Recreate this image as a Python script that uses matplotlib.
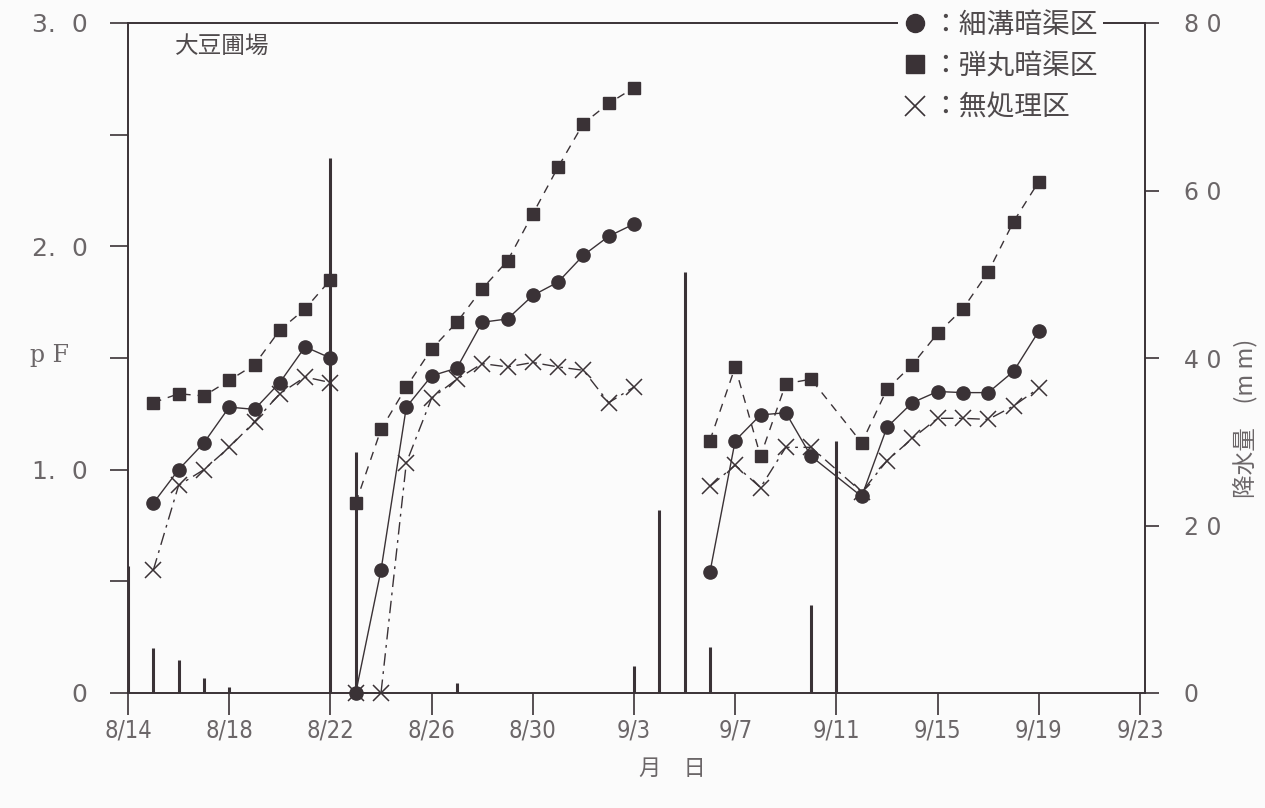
import matplotlib
matplotlib.use("Agg")
import matplotlib.pyplot as plt
from matplotlib.lines import Line2D

plt.rcParams["font.family"] = ["Noto Sans CJK JP", "DejaVu Sans"]

INK = "#3a3236"
TEXT = "#6b6668"

# days counted from 8/14; each run is a separate measurement period
segment_days = [
    [1, 2, 3, 4, 5, 6, 7, 8],
    [9, 10, 11, 12, 13, 14, 15, 16, 17, 18, 19, 20],
    [23, 24, 25, 26, 27, 29, 30, 31, 32, 33, 34, 35, 36],
]

# pF, 細溝暗渠区
furrow_pf = [
    [0.85, 1.00, 1.12, 1.28, 1.27, 1.39, 1.55, 1.50],
    [0.00, 0.55, 1.28, 1.42, 1.455, 1.66, 1.675, 1.78, 1.84, 1.96, 2.045, 2.10],
    [0.54, 1.13, 1.245, 1.255, 1.06, 0.88, 1.19, 1.30, 1.35, 1.345, 1.345, 1.44, 1.62],
]

# pF, 弾丸暗渠区
mole_pf = [
    [1.30, 1.34, 1.33, 1.40, 1.47, 1.625, 1.72, 1.85],
    [0.85, 1.18, 1.37, 1.54, 1.66, 1.81, 1.935, 2.145, 2.355, 2.55, 2.64, 2.71],
    [1.13, 1.46, 1.06, 1.385, 1.405, 1.12, 1.36, 1.47, 1.61, 1.72, 1.885, 2.11, 2.29],
]

# pF, 無処理区
control_pf = [
    [0.55, 0.93, 1.00, 1.10, 1.215, 1.34, 1.415, 1.39],
    [0.00, 0.00, 1.03, 1.32, 1.405, 1.475, 1.46, 1.48, 1.46, 1.445, 1.30, 1.37],
    [0.925, 1.02, 0.92, 1.10, 1.10, 0.90, 1.04, 1.14, 1.23, 1.23, 1.225, 1.285, 1.365],
]

rain_days = [0, 1, 2, 3, 4, 8, 9, 13, 20, 21, 22, 23, 27, 28]
rain_mm = [15.2, 5.4, 3.9, 1.8, 0.7, 63.9, 28.8, 1.2, 3.2, 21.8, 50.3, 5.5, 10.5, 30.1]

tick_days = list(range(0, 41, 4))
tick_dates = ["8/14", "8/18", "8/22", "8/26", "8/30", "9/3",
              "9/7", "9/11", "9/15", "9/19", "9/23"]
pf_ticks = [0, 0.5, 1.0, 1.5, 2.0, 2.5, 3.0]
pf_labels = ["0", "", "1.  0", "", "2.  0", "", "3.  0"]
rain_ticks = [0, 20, 40, 60, 80]
rain_labels = ["0", "2 0", "4 0", "6 0", "8 0"]

W, H = 1265, 808
fig = plt.figure(figsize=(W / 100, H / 100), dpi=100)
fig.patch.set_facecolor("#fbfbfb")

left, right, top, bottom = 128, 1145, 23, 693
ax = fig.add_axes([left / W, 1 - bottom / H, (right - left) / W, (bottom - top) / H])
ax.set_facecolor("none")
ax2 = ax.twinx()
ax2.set_facecolor("none")

# rainfall as thin bars on the right-hand scale
ax2.vlines(rain_days, 0, rain_mm, color=INK, lw=2.2)

styles = [
    (furrow_pf, dict(marker="o", ms=9.5, ls="-", lw=1.0)),
    (mole_pf, dict(marker="s", ms=9, ls=(0, (6, 5)), lw=1.0)),
    (control_pf, dict(marker="x", ms=12, mew=1.1, ls=(0, (9, 4, 2, 4)), lw=1.0)),
]
for series, kw in styles:
    for d, v in zip(segment_days, series):
        ax.plot(d, v, color=INK, mfc=INK, mec=INK, clip_on=False, **kw)

ax.set_xlim(0, (right - left) / 25.3)
ax.set_ylim(0, 3)
ax2.set_ylim(0, 80)

ax.set_xticks(tick_days)
ax.set_xticklabels(tick_dates, fontsize=17, color=TEXT, family="DejaVu Sans",
                   fontstretch="condensed", fontweight="light")
ax.set_yticks(pf_ticks)
ax.set_yticklabels(pf_labels, fontsize=18, color=TEXT, family="DejaVu Sans")
ax2.set_yticks(rain_ticks)
ax2.set_yticklabels(rain_labels, fontsize=17, color=TEXT, family="DejaVu Sans")

ax.tick_params(axis="x", direction="out", length=16, width=1.2, color=INK, pad=2)
ax.tick_params(axis="y", direction="out", length=13, width=1.2, color=INK, pad=16)
ax2.tick_params(axis="y", direction="out", length=10, width=1.2, color=INK, pad=18)

for sp in ax.spines.values():
    sp.set_color(INK)
    sp.set_linewidth(1.4)
ax.spines["right"].set_visible(False)
for name, sp in ax2.spines.items():
    sp.set_visible(name == "right")
    sp.set_color(INK)
    sp.set_linewidth(1.4)

handles = [
    Line2D([], [], color=INK, marker="o", ms=13, ls="none"),
    Line2D([], [], color=INK, marker="s", ms=13, ls="none"),
    Line2D([], [], color=INK, marker="x", ms=14, mew=1.2, ls="none"),
]
labels = ["：細溝暗渠区", "：弾丸暗渠区", "：無処理区"]
leg = ax2.legend(handles, labels, loc="upper left",
                 bbox_to_anchor=(898 / W, 1 - 4 / H), bbox_transform=fig.transFigure,
                 frameon=True, facecolor="#fbfbfb", edgecolor="none", framealpha=1,
                 fontsize=20, handlelength=0.8, handletextpad=0.2,
                 labelspacing=0.42, borderpad=0.2, borderaxespad=0)
for t in leg.get_texts():
    t.set_color("#4f4a4c")

fig.text(175 / W, 1 - 46 / H, "大豆圃場", fontsize=17, color="#4f4a4c", va="center")
fig.text(50 / W, 1 - 355 / H, "p F", fontsize=17, color=TEXT, va="center", ha="center",
         family="DejaVu Serif")
fig.text(672 / W, 1 - 768 / H, "月　日", fontsize=16, color=TEXT, va="center", ha="center")
fig.text(1245 / W, 1 - 418 / H, "降水量　(m m)", fontsize=17, color=TEXT,
         rotation=90, va="center", ha="center")

fig.savefig("out.png", dpi=100, facecolor=fig.get_facecolor())
